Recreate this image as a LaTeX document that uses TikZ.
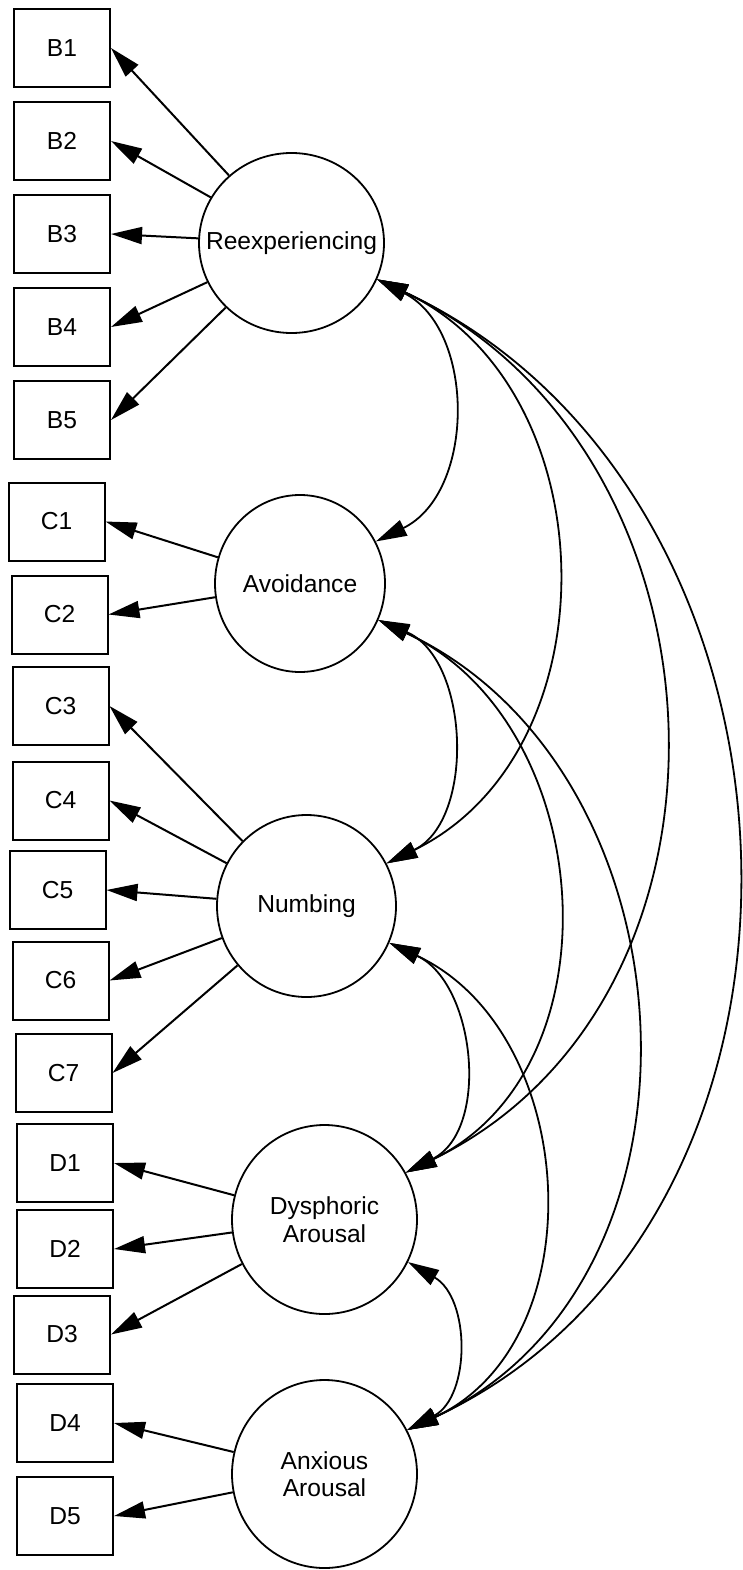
\documentclass[tikz,border=0pt]{standalone}
\usepackage{fontspec}
\setmainfont{Liberation Sans}
\usetikzlibrary{arrows.meta,shapes.geometric}
\begin{document}
\begin{tikzpicture}[x=1pt,y=-1pt,
  obs/.style={draw, rectangle, line width=2pt, minimum width=96pt, minimum height=78pt, inner sep=0pt},
  lat/.style={draw, ellipse, line width=1.8pt, inner sep=0pt, align=center},
  load/.style={line width=2pt, -{Triangle[length=31pt,width=17pt]}},
  cov/.style={line width=1.8pt, {Triangle[length=31pt,width=17pt]}-{Triangle[length=31pt,width=17pt]}},
  font=\fontsize{24.6}{27.5}\selectfont]
\useasboundingbox (0,0) rectangle (742,1570);

% latent variables
\node[lat, minimum width=185pt, minimum height=180pt] (R) at (291.5,243) {\makebox[0pt]{Reexperiencing}};
\node[lat, minimum width=170pt, minimum height=177pt] (A) at (300,583.5) {Avoidance};
\node[lat, minimum width=179pt, minimum height=182pt] (N) at (306.5,906) {Numbing};
\node[lat, minimum width=185pt, minimum height=189pt] (D) at (324.5,1219.5) {Dysphoric\\Arousal};
\node[lat, minimum width=185pt, minimum height=188pt] (X) at (324.5,1474) {Anxious\\Arousal};

% observed variables
\node[obs] (B1) at (62,48) {B1};
\node[obs] (B2) at (62,141) {B2};
\node[obs] (B3) at (62,234) {B3};
\node[obs] (B4) at (62,327) {B4};
\node[obs] (B5) at (62,420) {B5};
\node[obs] (C1) at (56.5,521.5) {C1};
\node[obs] (C2) at (59.5,614.5) {C2};
\node[obs] (C3) at (60.5,706) {C3};
\node[obs] (C4) at (60.5,800.5) {C4};
\node[obs] (C5) at (57.5,890) {C5};
\node[obs] (C6) at (60.5,980.5) {C6};
\node[obs] (C7) at (63.5,1073) {C7};
\node[obs] (D1) at (65,1163) {D1};
\node[obs] (D2) at (65,1249) {D2};
\node[obs] (D3) at (62,1334.5) {D3};
\node[obs] (D4) at (65,1423) {D4};
\node[obs] (D5) at (65,1516) {D5};

% loadings
\foreach \b in {B1,B2,B3,B4,B5} \draw[load] (R) -- (\b.east);
\foreach \b in {C1,C2} \draw[load] (A) -- (\b.east);
\foreach \b in {C3,C4,C5,C6,C7} \draw[load] (N) -- (\b.east);
\foreach \b in {D1,D2,D3} \draw[load] (D) -- (\b.east);
\foreach \b in {D4,D5} \draw[load] (X) -- (\b.east);

% covariances
\draw[cov] (R.-23) .. controls +(-27:111pt) and +(26:111pt) .. (A.29);
\draw[cov] (R.-23) .. controls +(-25:255pt) and +(26:255pt) .. (N.28);
\draw[cov] (R.-23) .. controls +(-25:399pt) and +(26:399pt) .. (D.30);
\draw[cov] (R.-23) .. controls +(-25:503pt) and +(25:503pt) .. (X.28);
\draw[cov] (A.-25) .. controls +(-23:99pt) and +(26:99pt) .. (N.28);
\draw[cov] (A.-25) .. controls +(-25:241pt) and +(26:241pt) .. (D.30);
\draw[cov] (A.-25) .. controls +(-25:354pt) and +(25:354pt) .. (X.28);
\draw[cov] (N.-24) .. controls +(-25:95pt) and +(27:95pt) .. (D.30);
\draw[cov] (N.-24) .. controls +(-25:210pt) and +(25:210pt) .. (X.28);
\draw[cov] (D.-27) .. controls +(-30:72pt) and +(28:72pt) .. (X.28);
\end{tikzpicture}
\end{document}
